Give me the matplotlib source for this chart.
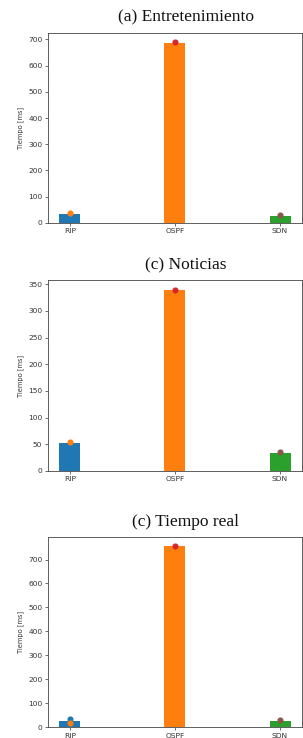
import matplotlib
matplotlib.use("Agg")
import matplotlib.pyplot as plt

categories = ["RIP", "OSPF", "SDN"]
titles = ["(a) Entretenimiento", "(c) Noticias", "(c) Tiempo real"]

bars_ent = [33, 687, 28]
dots_ent = [37, 689, 30]
bars_not = [53, 340, 34]
dots_not = [54, 340, 35]
bars_tr = [25, 755, 27]
dots_tr = [17, 758, 30]
extra_rip_tr = [34]

bar_colors = ["#1f77b4", "#ff7f0e", "#2ca02c"]
dot_colors = ["#ff7f0e", "#d62728", "#8c564b"]

fig = plt.figure(figsize=(3.03, 7.38), dpi=100)

positions = [
    (0.158, 0.698, 0.839, 0.257),
    (0.158, 0.362, 0.839, 0.258),
    (0.158, 0.0145, 0.839, 0.2585),
]
title_y = [1 - 17 / 738, 1 - 265 / 738, 1 - 522 / 738]

data = [(bars_ent, dots_ent), (bars_not, dots_not), (bars_tr, dots_tr)]

for i, (pos, (bv, dv)) in enumerate(zip(positions, data)):
    ax = fig.add_axes(pos)
    x = list(range(len(categories)))
    ax.bar(x, bv, width=0.2, color=bar_colors, zorder=2)
    if i == 2:
        ax.plot([0], extra_rip_tr, "o", color="#1f77b4", markersize=3.4, zorder=3)
    for xi, yi, c in zip(x, dv, dot_colors):
        ax.plot([xi], [yi], "o", color=c, markersize=3.4, zorder=4)
    ax.set_xticks(x)
    ax.set_xticklabels(categories)
    ax.tick_params(axis="both", labelsize=5.4, length=2.5, width=0.5,
                   colors="#333333", pad=1.5)
    for s in ax.spines.values():
        s.set_linewidth(0.6)
        s.set_color("#444444")
    ax.set_ylabel("Tiempo [ms]", fontsize=4.8, color="#333333", labelpad=3)
    fig.text(186 / 303, title_y[i], titles[i], ha="center", va="center",
             fontsize=12.5, family="Liberation Serif", color="#111111")

fig.savefig("out.png", dpi=100)
